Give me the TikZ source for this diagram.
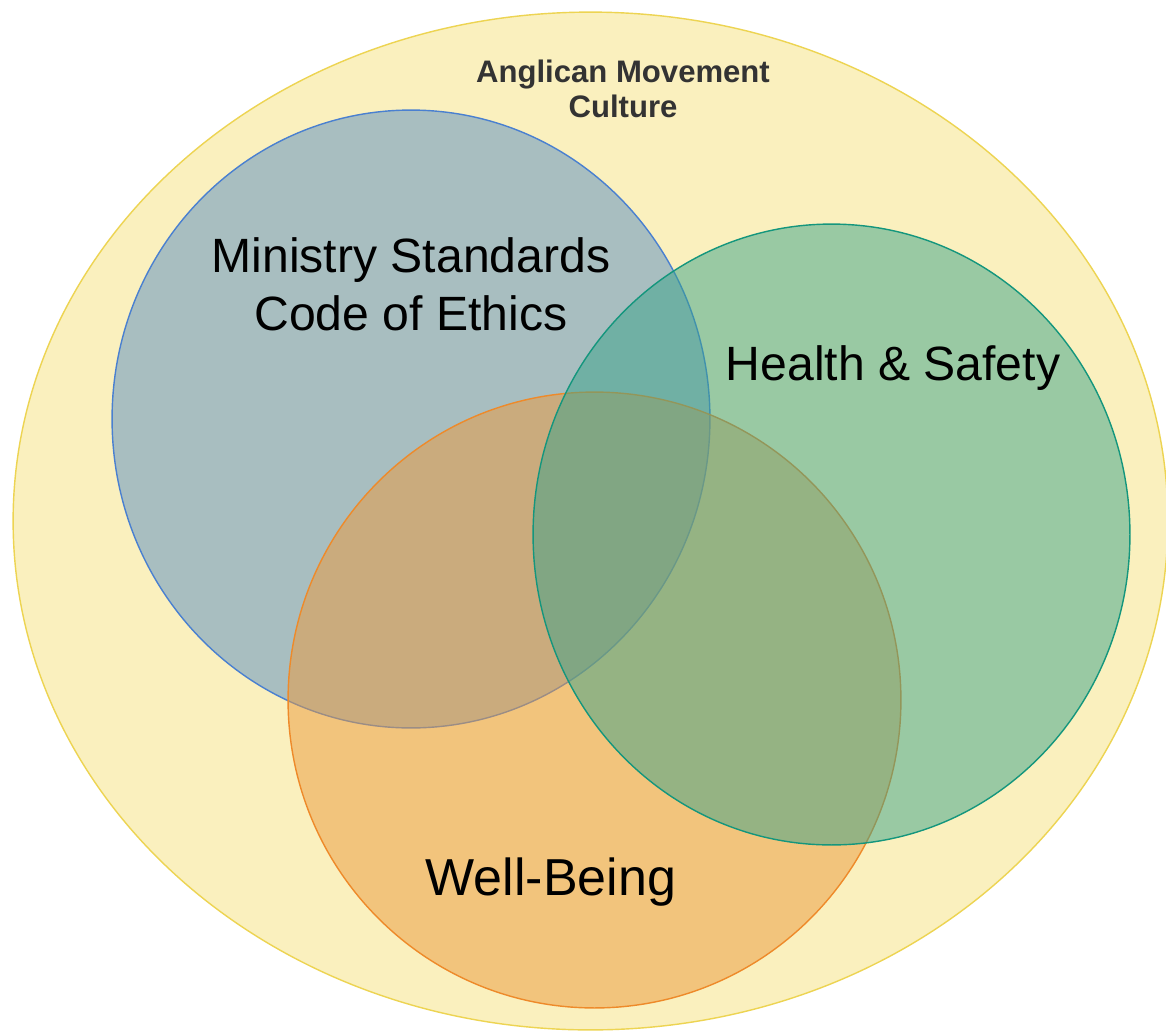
\documentclass[tikz,border=0pt]{standalone}
\usepackage{fontspec}
\setmainfont{Liberation Sans}
\usepackage{tikz}
\usepackage{xcolor}
\usetikzlibrary{shapes.geometric}

\definecolor{culturefill}{HTML}{FAF0BE}
\definecolor{cultureline}{HTML}{EDD452}
\definecolor{ministryfill}{HTML}{588EC2}
\definecolor{ministryline}{HTML}{4A80D0}
\definecolor{healthfill}{HTML}{3AA38A}
\definecolor{healthline}{HTML}{14967D}
\definecolor{wellfill}{HTML}{EC9A3C}
\definecolor{wellline}{HTML}{EE8A2A}
\definecolor{titlegray}{HTML}{333333}

\begin{document}
\begin{tikzpicture}[x=0.02cm, y=-0.02cm,
        set/.style={ellipse, draw, line width=0.8pt, inner sep=0pt, outer sep=0pt, fill opacity=0.5},
        settext/.style={font=\fontsize{27.4}{33}\selectfont, align=center}]
    \useasboundingbox[fill=white] (0, 0) rectangle (1166, 1032);

    % the culture that holds everything
    \node[ellipse, draw=cultureline, fill=culturefill, line width=0.8pt, inner sep=0pt,
        minimum width=23.1cm, minimum height=20.36cm] (culture) at (590.5, 521) {};
    \node[font=\fontsize{17.7}{19.9}\selectfont\bfseries, text=titlegray, align=center]
        (culturetext) at (623, 89) {Anglican Movement\\Culture};

    % the three overlapping sets (health last, so it lies on top)
    \node[set, draw=ministryline, fill=ministryfill, minimum width=11.96cm, minimum height=12.36cm]
        (ministry) at (411, 419) {};
    \node[set, draw=wellline, fill=wellfill, minimum width=12.26cm, minimum height=12.32cm]
        (well) at (594.5, 700) {};
    \node[set, draw=healthline, fill=healthfill, minimum width=11.94cm, minimum height=12.42cm]
        (health) at (831.5, 534.5) {};

    \node[settext] (ministrytext) at (411, 284) {Ministry Standards\\Code of Ethics};
    \node[settext] (healthtext) at (893, 368) {Health \& Safety};
    \node[settext, font=\fontsize{29.6}{35}\selectfont] (welltext) at (551, 882) {Well-Being};
\end{tikzpicture}
\end{document}
